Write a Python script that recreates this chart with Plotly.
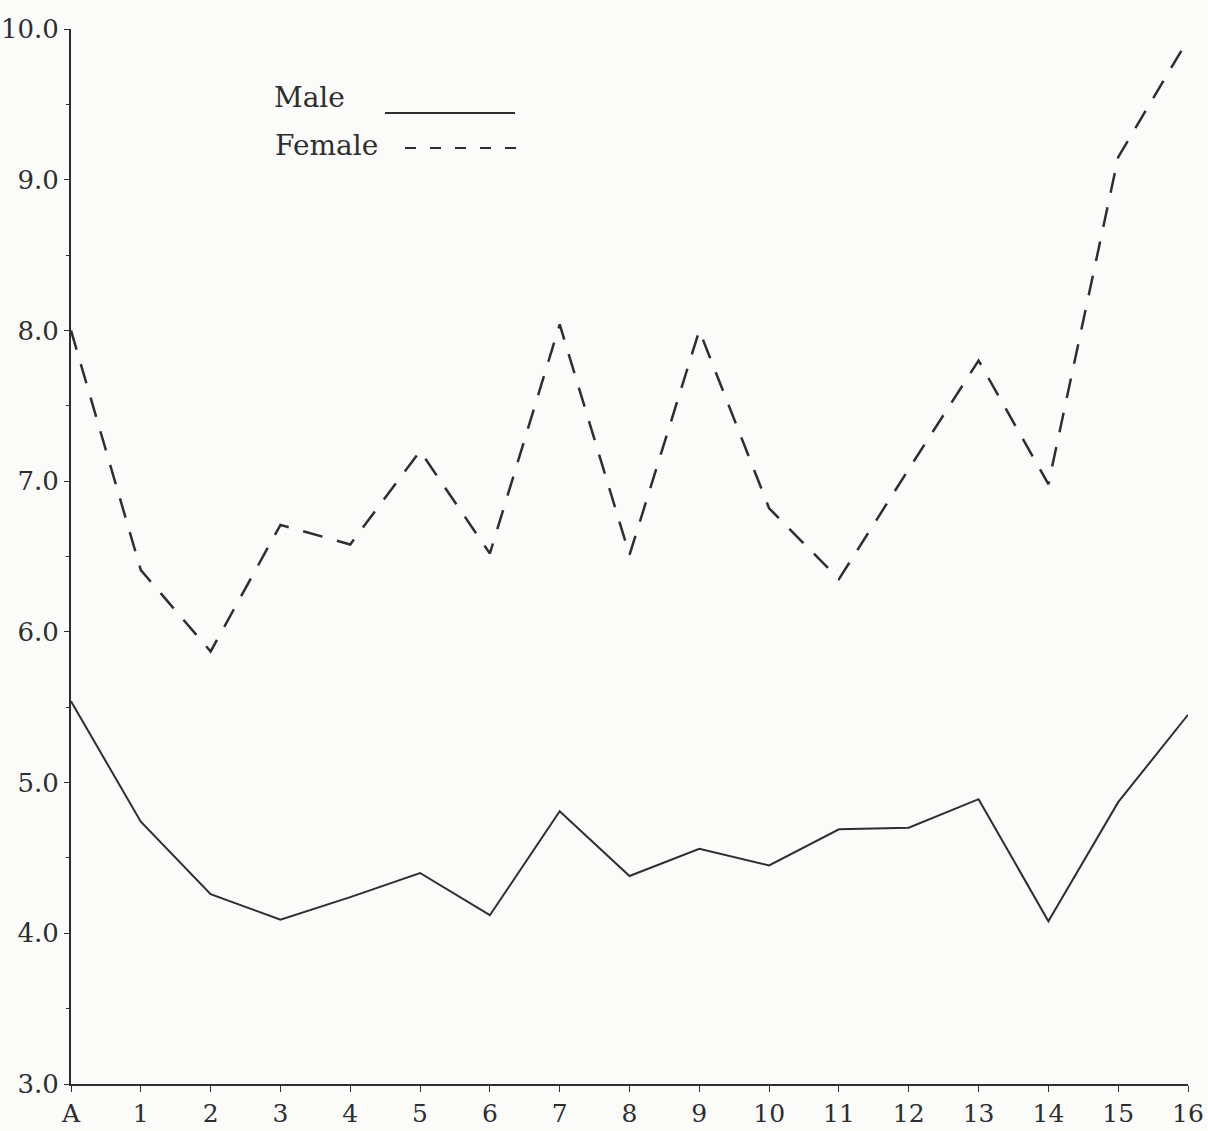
import plotly.graph_objects as go

# ---- data ----
categories = ["A", "1", "2", "3", "4", "5", "6", "7", "8", "9", "10",
              "11", "12", "13", "14", "15", "16"]
male = [5.54, 4.74, 4.26, 4.09, 4.24, 4.40, 4.12, 4.81, 4.38, 4.56, 4.45,
        4.69, 4.70, 4.89, 4.08, 4.87, 5.45]
female = [8.00, 6.41, 5.87, 6.71, 6.58, 7.20, 6.52, 8.04, 6.51, 8.00, 6.82,
          6.35, 7.08, 7.80, 6.98, 9.15, 9.93]
series_names = ["Male", "Female"]
y_ticks = [3, 4, 5, 6, 7, 8, 9, 10]

# ---- layout geometry ----
W, H = 1208, 1131
ML, MR, MT, MB = 71, 20, 29, 47
PW, PH = W - ML - MR, H - MT - MB
INK = "#2e2e2e"
FONT = "DejaVu Serif"


def px(x):
    return (x - ML) / PW


def py(y):
    return 1 - (y - MT) / PH


xs = list(range(len(categories)))

fig = go.Figure()
fig.add_trace(go.Scatter(x=xs, y=male, mode="lines", name=series_names[0],
                         line=dict(color=INK, width=2), showlegend=False))
fig.add_trace(go.Scatter(x=xs, y=female, mode="lines", name=series_names[1],
                         line=dict(color=INK, width=2.5, dash="20px,15px"),
                         showlegend=False))

# hand-drawn style legend: label on the left, line sample on the right
fig.add_annotation(x=px(272), y=py(97), xref="paper", yref="paper",
                   text=series_names[0], showarrow=False, xanchor="left",
                   yanchor="middle", font=dict(family=FONT, size=28, color=INK))
fig.add_annotation(x=px(273), y=py(145), xref="paper", yref="paper",
                   text=series_names[1], showarrow=False, xanchor="left",
                   yanchor="middle", font=dict(family=FONT, size=28, color=INK))
fig.add_shape(type="line", xref="paper", yref="paper",
              x0=px(385), x1=px(515), y0=py(113), y1=py(113),
              line=dict(color=INK, width=1.8))
fig.add_shape(type="line", xref="paper", yref="paper",
              x0=px(405), x1=px(522), y0=py(148), y1=py(148),
              line=dict(color=INK, width=1.8, dash="11px,14px"))

fig.update_layout(
    width=W, height=H,
    margin=dict(l=ML, r=MR, t=MT, b=MB, pad=0, autoexpand=False),
    paper_bgcolor="#fbfbfa", plot_bgcolor="#fbfbfa",
    font=dict(family=FONT, color=INK),
    showlegend=False,
)
fig.update_xaxes(
    range=[0, 16], tickvals=xs, ticktext=categories,
    automargin=False,
    showgrid=False, zeroline=False,
    showline=True, linecolor=INK, linewidth=1.8,
    ticks="outside", ticklen=6, tickcolor=INK, tickwidth=1.4,
    tickfont=dict(family=FONT, size=25, color=INK),
)
fig.update_yaxes(
    range=[3, 10], tickvals=y_ticks, tickformat=".1f",
    automargin=False,
    showgrid=False, zeroline=False,
    showline=True, linecolor=INK, linewidth=1.8,
    ticks="outside", ticklen=5, tickcolor=INK, tickwidth=1.4,
    tickfont=dict(family=FONT, size=26, color=INK),
    minor=dict(dtick=0.5, tick0=3, ticks="outside", ticklen=3,
               tickcolor=INK, tickwidth=1.2, showgrid=False),
)

fig.write_html("out.html")
